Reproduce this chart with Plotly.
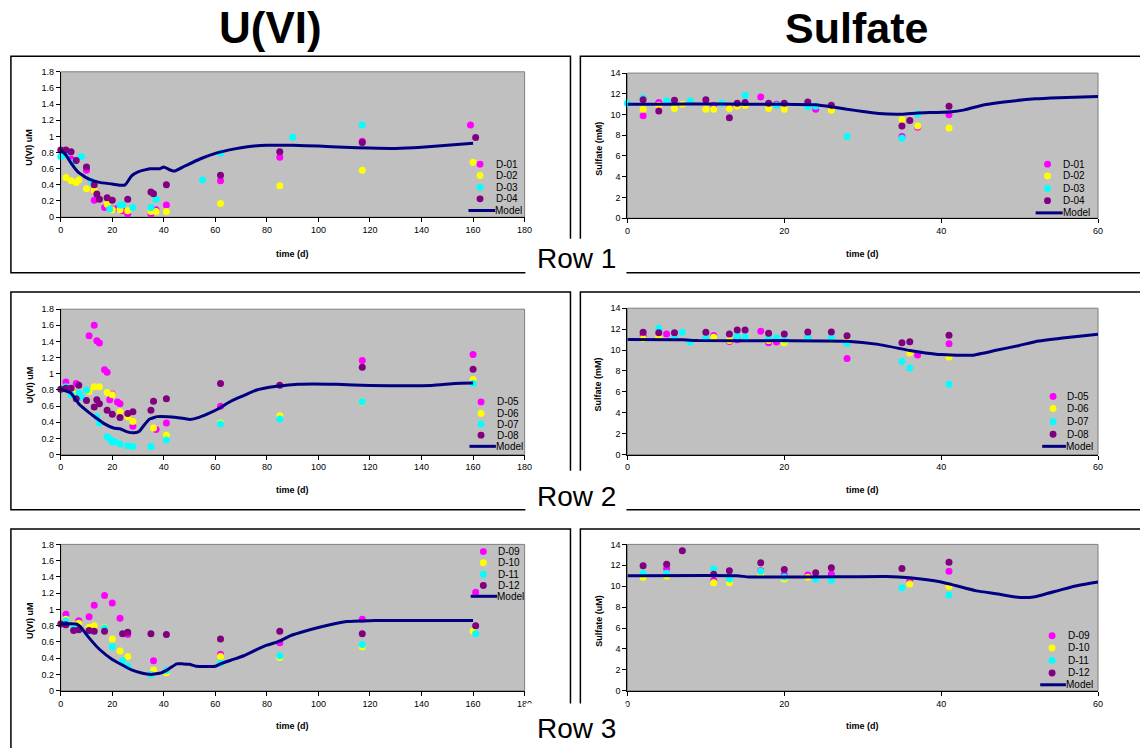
import plotly.graph_objects as go

W, H = 1140, 748
FONT = "Liberation Sans, Arial, sans-serif"

MAGENTA = "#ff00ff"
YELLOW = "#ffff00"
CYAN = "#00ffff"
PURPLE = "#800080"
NAVY = "#000080"
PLOT_BG = "#c0c0c0"

# ---------------- U(VI), row 1 ----------------
u1_d01_t = [4, 10, 13, 17, 20, 22, 24, 26, 35, 37, 41, 62, 85, 117, 159]
u1_d01 = [0.72, 0.58, 0.21, 0.12, 0.10, 0.11, 0.08, 0.04, 0.04, 0.09, 0.15, 0.45, 0.74, 0.94, 1.14]
u1_d02_t = [2, 4, 6, 7, 10, 13, 18, 20, 23, 26, 35, 37, 41, 62, 85, 117, 160]
u1_d02 = [0.49, 0.45, 0.43, 0.46, 0.35, 0.33, 0.16, 0.09, 0.09, 0.08, 0.07, 0.07, 0.07, 0.17, 0.39, 0.58, 0.68]
u1_d03_t = [0, 2, 5, 8, 12, 19, 23, 24, 28, 35, 37, 55, 62, 90, 117]
u1_d03 = [0.75, 0.77, 0.68, 0.75, 0.44, 0.10, 0.15, 0.15, 0.12, 0.12, 0.22, 0.46, 0.79, 0.99, 1.14]
u1_d04_t = [0, 2, 4, 6, 10, 13, 14, 15, 18, 20, 26, 35, 36, 41, 62, 85, 117, 161]
u1_d04 = [0.83, 0.83, 0.81, 0.70, 0.62, 0.40, 0.285, 0.22, 0.24, 0.21, 0.22, 0.31, 0.29, 0.40, 0.52, 0.81, 0.925, 0.985]
u1_model_t = [0, 2, 4, 7, 11, 15, 20, 23, 25, 27.5, 30, 34.5, 38.5, 40, 42, 44, 48, 54, 60, 65, 70, 75, 80,
              90, 100, 110, 120, 130, 140, 150, 160]
u1_model = [0.83, 0.77, 0.67, 0.55, 0.47, 0.43, 0.41, 0.395, 0.40, 0.51, 0.56, 0.60, 0.60, 0.62, 0.59, 0.57,
            0.63, 0.72, 0.79, 0.83, 0.86, 0.88, 0.89, 0.89, 0.88, 0.865, 0.855, 0.85, 0.865, 0.89, 0.915]

# ---------------- Sulfate, row 1 ----------------
s1_d01_t = [2, 4, 11, 13, 17, 19, 24, 35, 37, 41]
s1_d01 = [9.87, 11.17, 10.9, 10.8, 11.7, 11.0, 10.5, 7.87, 8.76, 9.97]
s1_d02_t = [2, 4, 6, 7, 10, 11, 13, 14, 15, 18, 20, 26, 35, 37, 41]
s1_d02 = [10.5, 10.9, 10.57, 11.0, 10.5, 10.5, 10.57, 10.8, 10.86, 10.57, 10.5, 10.4, 9.52, 8.89, 8.7]
s1_d03_t = [0, 2, 5, 8, 12, 15, 19, 23, 24, 28, 35, 37]
s1_d03 = [11.08, 11.6, 11.3, 11.3, 11.08, 11.87, 10.9, 10.76, 10.8, 7.87, 7.71, 10.06]
s1_d04_t = [2, 4, 6, 10, 13, 14, 15, 18, 20, 23, 26, 35, 36, 41]
s1_d04 = [11.43, 10.35, 11.37, 11.43, 9.68, 11.08, 11.17, 11.08, 11.08, 11.2, 10.9, 8.89, 9.43, 10.79]
s1_model_t = [0, 5, 10, 15, 20, 24, 26, 28, 30, 32, 35, 37, 41, 43, 45, 48, 52, 55, 60]
s1_model = [11.0, 11.0, 11.02, 11.0, 11.0, 10.95, 10.75, 10.5, 10.3, 10.1, 10.03, 10.15, 10.25, 10.45,
            10.85, 11.2, 11.52, 11.63, 11.75]

# ---------------- U(VI), row 2 ----------------
u2_d05_t = [2, 6, 11, 13, 14, 15, 17, 18, 19, 20, 22, 23, 28, 37, 41, 62, 117, 160]
u2_d05 = [0.90, 0.88, 1.47, 1.60, 1.41, 1.38, 1.05, 1.02, 0.68, 0.75, 0.65, 0.63, 0.35, 0.31, 0.39, 0.60, 1.165, 1.24]
u2_d06_t = [5, 11, 13, 15, 18, 20, 23, 26, 28, 36, 41, 62, 85, 117, 160]
u2_d06 = [0.75, 0.78, 0.84, 0.84, 0.77, 0.74, 0.53, 0.47, 0.41, 0.33, 0.24, 0.39, 0.48, 0.65, 0.93]
u2_d07_t = [2, 4, 7, 8, 10, 14, 15, 18, 19, 20, 21, 23, 26, 28, 35, 41, 62, 85, 117, 160]
u2_d07 = [0.84, 0.74, 0.76, 0.71, 0.80, 0.47, 0.39, 0.22, 0.20, 0.16, 0.16, 0.13, 0.11, 0.10, 0.10, 0.18,
          0.38, 0.44, 0.655, 0.88]
u2_d08_t = [0, 2, 4, 6, 7, 10, 13, 14, 15, 18, 20, 23, 26, 28, 35, 36, 41, 62, 85, 117, 160]
u2_d08 = [0.81, 0.82, 0.82, 0.69, 0.86, 0.67, 0.59, 0.68, 0.63, 0.55, 0.50, 0.46, 0.51, 0.53, 0.55, 0.66,
          0.69, 0.88, 0.86, 1.08, 1.055]
u2_model_t = [0, 4, 7, 11, 13.5, 16.5, 20.5, 23, 25.5, 28.5, 30.5, 32.5, 34.5, 37.5, 41.5, 45, 50, 53, 57,
              61, 66, 71, 76, 81, 85, 92, 107, 120, 144, 153, 160]
u2_model = [0.81, 0.76, 0.63, 0.52, 0.46, 0.39, 0.33, 0.32, 0.285, 0.27, 0.29, 0.37, 0.44, 0.47, 0.47, 0.46,
            0.435, 0.455, 0.505, 0.565, 0.66, 0.73, 0.80, 0.835, 0.85, 0.87, 0.87, 0.855, 0.855, 0.88, 0.885]

# ---------------- Sulfate, row 2 ----------------
s2_d05_t = [2, 5, 11, 13, 14, 17, 18, 19, 23, 28, 37, 41]
s2_d05 = [11.39, 11.54, 11.39, 10.82, 10.98, 11.8, 10.7, 10.76, 11.2, 9.19, 9.53, 10.6]
s2_d06_t = [2, 4, 11, 13, 15, 18, 20, 23, 26, 28, 36, 41]
s2_d06 = [11.07, 11.23, 11.23, 10.92, 11.07, 10.92, 10.7, 11.07, 10.98, 10.82, 9.72, 9.34]
s2_d07_t = [4, 6, 7, 8, 10, 14, 15, 18, 19, 20, 23, 26, 28, 35, 36, 41]
s2_d07 = [12.08, 11.17, 11.7, 10.76, 11.23, 11.32, 11.23, 11.07, 11.17, 11.0, 11.17, 11.17, 10.63, 8.9, 8.27, 6.73]
s2_d08_t = [2, 4, 6, 10, 13, 14, 15, 18, 20, 23, 26, 28, 35, 36, 41]
s2_d08 = [11.7, 11.64, 11.64, 11.7, 11.54, 11.92, 11.92, 11.6, 11.54, 11.73, 11.73, 11.36, 10.7, 10.79, 11.42]
s2_model_t = [0, 7, 9, 20, 28, 32, 36, 38, 40, 44, 47, 50, 52, 55.5, 60]
s2_model = [11.0, 10.98, 10.9, 10.9, 10.85, 10.54, 9.95, 9.72, 9.56, 9.5, 9.97, 10.44, 10.8, 11.14, 11.5]

# ---------------- U(VI), row 3 ----------------
u3_d09_t = [2, 7, 11, 13, 17, 20, 23, 26, 36, 62, 85, 117, 161]
u3_d09 = [0.94, 0.86, 0.91, 1.05, 1.17, 1.08, 0.89, 0.69, 0.37, 0.45, 0.59, 0.88, 1.21]
u3_d10_t = [2, 5, 7, 11, 13, 17, 20, 23, 26, 36, 41, 62, 85, 117, 160]
u3_d10 = [0.88, 0.81, 0.83, 0.78, 0.80, 0.78, 0.635, 0.49, 0.42, 0.255, 0.22, 0.42, 0.41, 0.54, 0.73]
u3_d11_t = [2, 5, 7, 11, 17, 20, 24, 26, 35, 41, 62, 85, 117, 161]
u3_d11 = [0.86, 0.78, 0.75, 0.73, 0.77, 0.54, 0.37, 0.30, 0.20, 0.25, 0.34, 0.43, 0.567, 0.70]
u3_d12_t = [0, 2, 5, 7, 11, 13, 17, 24, 26, 35, 41, 62, 85, 117, 161]
u3_d12 = [0.82, 0.81, 0.74, 0.75, 0.74, 0.73, 0.73, 0.70, 0.72, 0.70, 0.69, 0.635, 0.73, 0.70, 0.80]
u3_model_t = [0, 6, 7.5, 11, 15, 20, 24, 27.5, 31, 35, 39, 41.5, 45, 47.5, 50, 52.5, 60, 62, 67, 71, 76,
              80, 85, 89, 93, 100, 111, 122, 160]
u3_model = [0.82, 0.82, 0.79, 0.65, 0.51, 0.385, 0.315, 0.255, 0.22, 0.20, 0.22, 0.26, 0.33, 0.33, 0.325,
            0.30, 0.30, 0.33, 0.385, 0.43, 0.505, 0.56, 0.61, 0.675, 0.716, 0.777, 0.85, 0.865, 0.865]

# ---------------- Sulfate, row 3 ----------------
s3_d09_t = [5, 11, 17, 20, 23, 26, 36, 41]
s3_d09 = [11.7, 10.54, 11.48, 11.1, 11.07, 11.17, 10.54, 11.42]
s3_d10_t = [2, 5, 11, 13, 17, 20, 23, 36, 41]
s3_d10 = [10.85, 10.95, 10.32, 10.32, 11.17, 10.7, 10.85, 10.22, 9.97]
s3_d11_t = [2, 5, 11, 13, 17, 20, 24, 26, 35, 41]
s3_d11 = [11.23, 11.23, 11.64, 10.7, 11.42, 10.88, 10.7, 10.57, 9.85, 9.15]
s3_d12_t = [2, 5, 7, 11, 13, 17, 20, 24, 26, 35, 41]
s3_d12 = [11.95, 12.11, 13.4, 11.14, 11.48, 12.24, 11.6, 11.29, 11.76, 11.7, 12.3]
s3_model_t = [0, 14, 15.5, 28, 33, 36, 40, 44.5, 47, 50, 52, 55, 57, 60]
s3_model = [11.0, 11.0, 10.88, 10.9, 10.92, 10.8, 10.4, 9.55, 9.28, 8.92, 9.0, 9.6, 10.0, 10.4]

COLORS = [MAGENTA, YELLOW, CYAN, PURPLE]


def fx(x):
    return x / W


def fy(y):
    return 1 - y / H


# Panel geometry is given in page pixels: plot area, legend placement, title spots.
panels = [
    dict(xd=(58.3, 526.7), yd=(67.7, 215.0), xr=[0, 180], yr=[0, 1.8], dx=20, dy=0.2,
         series=[("D-01", u1_d01_t, u1_d01), ("D-02", u1_d02_t, u1_d02),
                 ("D-03", u1_d03_t, u1_d03), ("D-04", u1_d04_t, u1_d04)],
         model=(u1_model_t, u1_model), ytitle="U(VI) uM", ytx=26.7, xty=252,
         leg=dict(mx=481.7, tx=497.5, ys=[161.3, 172.8, 184.8, 196.5, 208.3], l0=470, l1=497)),
    dict(xd=(630.5, 1105.7), yd=(69.0, 216.0), xr=[0, 60], yr=[0, 14], dx=20, dy=2,
         series=[("D-01", s1_d01_t, s1_d01), ("D-02", s1_d02_t, s1_d02),
                 ("D-03", s1_d03_t, s1_d03), ("D-04", s1_d04_t, s1_d04)],
         model=(s1_model_t, s1_model), ytitle="Sulfate (mM)", ytx=601, xty=252,
         leg=dict(mx=1054.7, tx=1070.5, ys=[161.3, 173.3, 186.0, 198.3, 210.7], l0=1042.7, l1=1070)),
    dict(xd=(58.3, 526.7), yd=(308.3, 455.7), xr=[0, 180], yr=[0, 1.8], dx=20, dy=0.2,
         series=[("D-05", u2_d05_t, u2_d05), ("D-06", u2_d06_t, u2_d06),
                 ("D-07", u2_d07_t, u2_d07), ("D-08", u2_d08_t, u2_d08)],
         model=(u2_model_t, u2_model), ytitle="U(VI) uM", ytx=26.7, xty=491.7,
         leg=dict(mx=482.7, tx=498.5, ys=[402.3, 414.0, 425.0, 436.0, 447.3], l0=471, l1=497.7)),
    dict(xd=(630.5, 1105.7), yd=(307.3, 455.7), xr=[0, 60], yr=[0, 14], dx=20, dy=2,
         series=[("D-05", s2_d05_t, s2_d05), ("D-06", s2_d06_t, s2_d06),
                 ("D-07", s2_d07_t, s2_d07), ("D-08", s2_d08_t, s2_d08)],
         model=(s2_model_t, s2_model), ytitle="Sulfate (mM)", ytx=601, xty=491.7,
         leg=dict(mx=1060.3, tx=1074.5, ys=[396.7, 409.0, 422.3, 435.0, 447.3], l0=1049.3, l1=1073.3)),
    dict(xd=(58.3, 526.7), yd=(546.7, 695.0), xr=[0, 180], yr=[0, 1.8], dx=20, dy=0.2,
         series=[("D-09", u3_d09_t, u3_d09), ("D-10", u3_d10_t, u3_d10),
                 ("D-11", u3_d11_t, u3_d11), ("D-12", u3_d12_t, u3_d12)],
         model=(u3_model_t, u3_model), ytitle="U(VI) uM", ytx=26.7, xty=730.7,
         leg=dict(mx=485.0, tx=500.0, ys=[554.0, 565.3, 577.0, 588.3, 599.3], l0=472.3, l1=499)),
    dict(xd=(630.5, 1105.7), yd=(546.7, 695.0), xr=[0, 60], yr=[0, 14], dx=20, dy=2,
         series=[("D-09", s3_d09_t, s3_d09), ("D-10", s3_d10_t, s3_d10),
                 ("D-11", s3_d11_t, s3_d11), ("D-12", s3_d12_t, s3_d12)],
         model=(s3_model_t, s3_model), ytitle="Sulfate (uM)", ytx=601, xty=730.7,
         leg=dict(mx=1059.3, tx=1075.0, ys=[639.3, 651.7, 664.3, 677.0, 689.0], l0=1047.3, l1=1073.3)),
]

fig = go.Figure()
layout = dict(
    width=W, height=H, autosize=False,
    margin=dict(l=0, r=0, t=0, b=0),
    paper_bgcolor="white", plot_bgcolor=PLOT_BG,
    showlegend=False,
    font=dict(family=FONT, size=9, color="black"),
)
shapes = []
annotations = []

for i, p in enumerate(panels, start=1):
    xa = "x" if i == 1 else f"x{i}"
    ya = "y" if i == 1 else f"y{i}"
    for (name, t, v), col in zip(p["series"], COLORS):
        fig.add_trace(go.Scatter(x=t, y=v, mode="markers", name=name, xaxis=xa, yaxis=ya,
                                 marker=dict(size=7, color=col, line=dict(width=0)),
                                 cliponaxis=False))
    mt, mv = p["model"]
    fig.add_trace(go.Scatter(x=mt, y=mv, mode="lines", name="Model", xaxis=xa, yaxis=ya,
                             line=dict(color=NAVY, width=3, shape="spline", smoothing=0.4),
                             cliponaxis=False))

    axis_common = dict(showgrid=False, zeroline=False, showline=True, linecolor="black",
                       linewidth=1, ticks="outside", ticklen=4, tickwidth=1, tickcolor="black",
                       tickfont=dict(family=FONT, size=9, color="black"), fixedrange=True)
    layout["xaxis" if i == 1 else f"xaxis{i}"] = dict(
        domain=[fx(p["xd"][0]), fx(p["xd"][1])], range=p["xr"], dtick=p["dx"], tick0=0,
        anchor=ya, **axis_common)
    layout["yaxis" if i == 1 else f"yaxis{i}"] = dict(
        domain=[fy(p["yd"][1]), fy(p["yd"][0])], range=p["yr"], dtick=p["dy"], tick0=0,
        anchor=xa, **axis_common)

    # thin grey border round the plot area
    shapes.append(dict(type="rect", xref=f"{xa} domain", yref=f"{ya} domain",
                       x0=0, x1=1, y0=0, y1=1, line=dict(color="#808080", width=1), layer="below"))

    # axis titles
    annotations.append(dict(text="<b>time (d)</b>", x=fx((p["xd"][0] + p["xd"][1]) / 2), y=fy(p["xty"]),
                            xref="paper", yref="paper", showarrow=False,
                            xanchor="center", yanchor="middle", font=dict(size=9)))
    annotations.append(dict(text=f"<b>{p['ytitle']}</b>", x=fx(p["ytx"]),
                            y=fy((p["yd"][0] + p["yd"][1]) / 2 + 3), xref="paper", yref="paper",
                            showarrow=False, textangle=-90, xanchor="center", yanchor="middle",
                            font=dict(size=9)))

    # legend: four sample markers and the model line
    lg = p["leg"]
    r = 3.5
    labels = [s[0] for s in p["series"]] + ["Model"]
    for k, (lab, yy) in enumerate(zip(labels, lg["ys"])):
        if k < 4:
            shapes.append(dict(type="circle", xref="paper", yref="paper",
                               x0=fx(lg["mx"] - r), x1=fx(lg["mx"] + r),
                               y0=fy(yy + r), y1=fy(yy - r),
                               fillcolor=COLORS[k], line=dict(width=0), layer="above"))
            tx = lg["tx"]
        else:
            shapes.append(dict(type="line", xref="paper", yref="paper",
                               x0=fx(lg["l0"]), x1=fx(lg["l1"]), y0=fy(yy), y1=fy(yy),
                               line=dict(color=NAVY, width=3), layer="above"))
            tx = lg["l1"]
        annotations.append(dict(text=lab, x=fx(tx), y=fy(yy), xref="paper", yref="paper",
                                showarrow=False, xanchor="left", yanchor="middle",
                                font=dict(size=10), xshift=-2))

# frames around each row of panels
rows = [(52, 271.5), (291, 511.7), (531, 760)]
for top, bot in rows:
    shapes.append(dict(type="rect", xref="paper", yref="paper", x0=fx(8), x1=fx(573),
                       y0=fy(bot), y1=fy(top), line=dict(color="black", width=1.5), layer="above"))
    shapes.append(dict(type="rect", xref="paper", yref="paper", x0=fx(583), x1=fx(1150),
                       y0=fy(bot), y1=fy(top), line=dict(color="black", width=1.5), layer="above"))

# row captions sit on white patches that interrupt the frames
captions = [("Row 1", 237, 276, 257), ("Row 2", 472, 516, 498), ("Row 3", 708, 760, 733)]
for text, y0, y1, yc in captions:
    shapes.append(dict(type="rect", xref="paper", yref="paper", x0=fx(527.5), x1=fx(629.5),
                       y0=fy(y1), y1=fy(y0), fillcolor="white", line=dict(width=0), layer="above"))
    annotations.append(dict(text=text, x=fx(579.5), y=fy(yc), xref="paper", yref="paper",
                            showarrow=False, xanchor="center", yanchor="middle",
                            font=dict(size=28, color="black")))

# column headings
annotations.append(dict(text="<b>U(VI)</b>", x=fx(270), y=fy(23), xref="paper", yref="paper",
                        showarrow=False, xanchor="center", yanchor="middle",
                        font=dict(size=44, color="black")))
annotations.append(dict(text="<b>Sulfate</b>", x=fx(862), y=fy(23), xref="paper", yref="paper",
                        showarrow=False, xanchor="center", yanchor="middle",
                        font=dict(size=43, color="black")))

layout["shapes"] = shapes
layout["annotations"] = annotations
fig.update_layout(**layout)
fig.write_html("out.html", config={"displayModeBar": False})
